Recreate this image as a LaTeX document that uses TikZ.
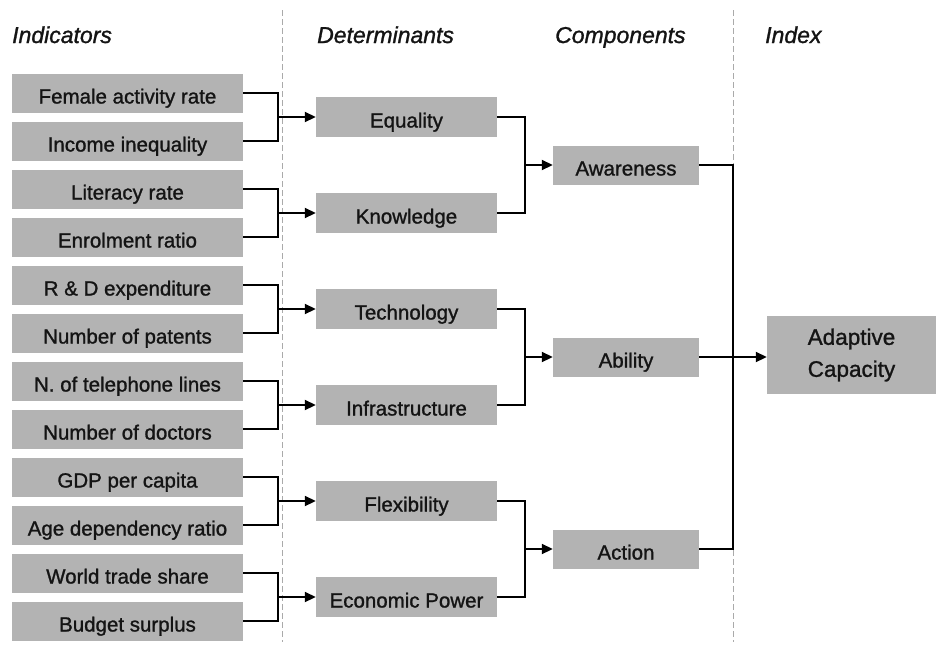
\documentclass[tikz,border=0pt]{standalone}
\usepackage{fontspec}
\setmainfont{Liberation Sans}[FakeBold=1.2]
\usetikzlibrary{arrows.meta}
\definecolor{boxgray}{RGB}{179,179,179}
\definecolor{txt}{RGB}{20,20,20}
\definecolor{dashgray}{RGB}{170,170,170}
\begin{document}
\begin{tikzpicture}[x=1pt,y=-1pt,
  base/.style={fill=boxgray, inner sep=0pt, text=txt, font=\fontsize{20.5}{22}\selectfont},
  onel/.style={base, text height=21pt, text depth=0pt},
  ind/.style={onel, minimum width=231pt, minimum height=39pt},
  det/.style={onel, minimum width=181pt, minimum height=40pt},
  comp/.style={onel, minimum width=146pt, minimum height=39pt},
  idx/.style={base, minimum width=169pt, minimum height=78pt, align=center, font=\fontsize{22.5}{32}\selectfont},
  head/.style={anchor=base west, inner sep=0pt, text=txt, font=\fontsize{23}{26}\selectfont\itshape},
  conn/.style={line width=1.8pt, black},
  arr/.style={conn, -{Triangle[length=11pt,width=10pt]}},
  sep/.style={dashgray, line width=0.8pt, dash pattern=on 6pt off 3pt}]
\useasboundingbox (0,0) rectangle (937,646);
% separators
\coordinate (s1t) at (282,10); \coordinate (s1b) at (282,642);
\coordinate (s2t) at (733,10); \coordinate (s2b) at (733,642);
\draw[sep] (s1t) -- (s1b);
\draw[sep] (s2t) -- (s2b);
% headers
\node[head] (h1) at (12,43) {Indicators};
\node[head] (h2) at (317,43) {Determinants};
\node[head] (h3) at (555,43) {Components};
\node[head] (h4) at (765,43) {Index};
% indicators
\node[ind] (i1) at (127.5,93) {Female activity rate};
\node[ind] (i2) at (127.5,141) {Income inequality};
\node[ind] (i3) at (127.5,189) {Literacy rate};
\node[ind] (i4) at (127.5,237) {Enrolment ratio};
\node[ind] (i5) at (127.5,285) {R \& D expenditure};
\node[ind] (i6) at (127.5,333) {Number of patents};
\node[ind] (i7) at (127.5,381) {N. of telephone lines};
\node[ind] (i8) at (127.5,429) {Number of doctors};
\node[ind] (i9) at (127.5,477) {GDP per capita};
\node[ind] (i10) at (127.5,525) {Age dependency ratio};
\node[ind] (i11) at (127.5,573) {World trade share};
\node[ind] (i12) at (127.5,621) {Budget surplus};
% determinants
\node[det] (d1) at (406.5,117) {Equality};
\node[det] (d2) at (406.5,213) {Knowledge};
\node[det] (d3) at (406.5,309) {Technology};
\node[det] (d4) at (406.5,405) {Infrastructure};
\node[det] (d5) at (406.5,501) {Flexibility};
\node[det] (d6) at (406.5,597) {Economic Power};
% components
\node[comp] (c1) at (626,165) {Awareness};
\node[comp] (c2) at (626,357) {Ability};
\node[comp] (c3) at (626,549) {Action};
% index
\node[idx] (ix) at (851.5,355) {Adaptive\\Capacity};
% junctions
\coordinate (j1) at (278,117); \coordinate (j2) at (278,213);
\coordinate (j3) at (278,309); \coordinate (j4) at (278,405);
\coordinate (j5) at (278,501); \coordinate (j6) at (278,597);
\coordinate (k1) at (525,165); \coordinate (k2) at (525,357); \coordinate (k3) at (525,549);
\coordinate (m1) at (733,357);
% indicator -> determinant
\draw[conn] (i1.east) -| (j1) |- (i2.east); \draw[arr] (j1) -- (d1.west);
\draw[conn] (i3.east) -| (j2) |- (i4.east); \draw[arr] (j2) -- (d2.west);
\draw[conn] (i5.east) -| (j3) |- (i6.east); \draw[arr] (j3) -- (d3.west);
\draw[conn] (i7.east) -| (j4) |- (i8.east); \draw[arr] (j4) -- (d4.west);
\draw[conn] (i9.east) -| (j5) |- (i10.east); \draw[arr] (j5) -- (d5.west);
\draw[conn] (i11.east) -| (j6) |- (i12.east); \draw[arr] (j6) -- (d6.west);
% determinant -> component
\draw[conn] (d1.east) -| (k1) |- (d2.east); \draw[arr] (k1) -- (c1.west);
\draw[conn] (d3.east) -| (k2) |- (d4.east); \draw[arr] (k2) -- (c2.west);
\draw[conn] (d5.east) -| (k3) |- (d6.east); \draw[arr] (k3) -- (c3.west);
% component -> index
\draw[conn] (c1.east) -| (m1) |- (c3.east);
\draw[arr] (c2.east) -- (c2.east -| ix.west);
\end{tikzpicture}
\end{document}
